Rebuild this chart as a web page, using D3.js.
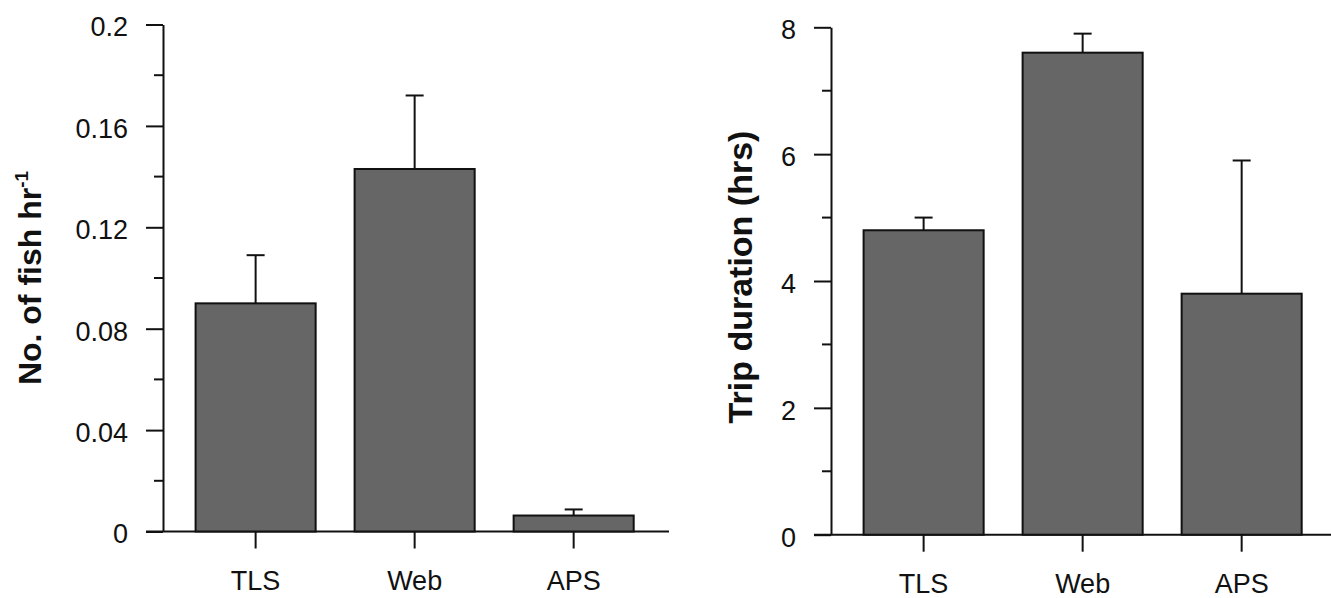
<!DOCTYPE html>
<html>
<head>
<meta charset="utf-8">
<script src="https://cdn.jsdelivr.net/npm/d3@7"></script>
<style>
  body { margin: 0; background: #fff; }
  svg { display: block; font-family: "Liberation Sans", Arial, sans-serif; }
  .axis path, .axis line { stroke: #111; stroke-width: 2; }
  .axis text { font-size: 27px; fill: #111; }
  .axis-title { font-weight: bold; fill: #111; }
</style>
</head>
<body>
<div id="chart"></div>
<script>
// categories shared by both panels
const categories = ["TLS", "Web", "APS"];

// left panel: catch rate (No. of fish per hour)
const fishRate = [0.09, 0.143, 0.0063];
const fishRateErr = [0.019, 0.029, 0.0024];
const fishTicks = [0, 0.04, 0.08, 0.12, 0.16, 0.2];
const fishTickLabels = ["0", "0.04", "0.08", "0.12", "0.16", "0.2"];
const fishMinorTicks = [0.02, 0.06, 0.1, 0.14, 0.18];

// right panel: trip duration in hours
const tripHours = [4.8, 7.6, 3.8];
const tripHoursErr = [0.2, 0.3, 2.1];
const tripTicks = [0, 2, 4, 6, 8];
const tripTickLabels = ["0", "2", "4", "6", "8"];
const tripMinorTicks = [1, 3, 5, 7];

class BarErrorVis {
  constructor(_svg, _opts) {
    this.svg = _svg;
    this.opts = _opts;
    this.initVis();
  }

  initVis() {
    let vis = this;
    let o = vis.opts;

    vis.g = vis.svg.append("g")
      .attr("transform", `translate(${o.left}, ${o.top})`);

    vis.height = o.height;
    vis.width = o.width;

    vis.x = d3.scaleBand()
      .domain(categories)
      .range([0, vis.width])
      .paddingInner(0.245)
      .paddingOuter(0.2135)
      .align(0.48);

    vis.y = d3.scaleLinear()
      .domain([0, o.max])
      .range([vis.height, 0]);

    // y axis with major ticks and labels
    vis.yAxis = d3.axisLeft(vis.y)
      .tickValues(o.ticks)
      .tickFormat((d, i) => o.tickLabels[i])
      .tickSize(17)
      .tickSizeOuter(0)
      .tickPadding(18);

    let yg = vis.g.append("g")
      .attr("class", "axis y-axis")
      .call(vis.yAxis);
    yg.selectAll("text").attr("dy", o.labelDy);

    // minor ticks
    vis.g.append("g")
      .attr("class", "axis")
      .selectAll("line")
      .data(o.minorTicks)
      .join("line")
      .attr("x1", -9)
      .attr("x2", 0)
      .attr("y1", d => vis.y(d))
      .attr("y2", d => vis.y(d));

    // x axis: baseline runs left of the y axis too
    vis.xAxis = d3.axisBottom(vis.x)
      .tickSize(17)
      .tickSizeOuter(0)
      .tickPadding(22);

    let xg = vis.g.append("g")
      .attr("class", "axis x-axis")
      .attr("transform", `translate(0, ${vis.height})`)
      .call(vis.xAxis);
    xg.select(".domain").remove();

    vis.g.append("line")
      .attr("class", "axis")
      .attr("x1", -17)
      .attr("x2", vis.width)
      .attr("y1", vis.height)
      .attr("y2", vis.height)
      .attr("stroke", "#111")
      .attr("stroke-width", 2);

    // axis title
    let title = vis.g.append("text")
      .attr("class", "axis-title")
      .attr("font-size", o.titleSize)
      .attr("transform", `translate(${o.titleX}, ${vis.height / 2 + o.titleShift}) rotate(-90)`)
      .attr("text-anchor", "middle")
      .text(o.title);
    if (o.titleSup) {
      title.append("tspan")
        .attr("font-size", "19px")
        .attr("dy", -13)
        .text(o.titleSup);
    }

    vis.updateVis();
  }

  updateVis() {
    let vis = this;
    let o = vis.opts;

    let data = categories.map((c, i) => ({ cat: c, value: o.values[i], err: o.errs[i] }));
    let cx = d => vis.x(d.cat) + vis.x.bandwidth() / 2;

    // error bars (drawn first so the bar outline sits on top)
    let eb = vis.g.append("g")
      .attr("stroke", "#111")
      .attr("stroke-width", 2);
    eb.selectAll(".err-stem")
      .data(data)
      .join("line")
      .attr("class", "err-stem")
      .attr("x1", cx)
      .attr("x2", cx)
      .attr("y1", d => vis.y(d.value))
      .attr("y2", d => vis.y(d.value + d.err));
    eb.selectAll(".err-cap")
      .data(data)
      .join("line")
      .attr("class", "err-cap")
      .attr("x1", d => cx(d) - 9)
      .attr("x2", d => cx(d) + 9)
      .attr("y1", d => vis.y(d.value + d.err))
      .attr("y2", d => vis.y(d.value + d.err));

    vis.g.selectAll(".bar")
      .data(data)
      .join("rect")
      .attr("class", "bar")
      .attr("x", d => vis.x(d.cat))
      .attr("width", vis.x.bandwidth())
      .attr("y", d => vis.y(d.value))
      .attr("height", d => vis.height - vis.y(d.value))
      .attr("fill", "#666666")
      .attr("stroke", "#111")
      .attr("stroke-width", 2);
  }
}

let svg = d3.select("#chart").append("svg")
  .attr("width", 1331)
  .attr("height", 598);

new BarErrorVis(svg, {
  left: 163, top: 24.5, width: 506, height: 507,
  max: 0.2,
  values: fishRate, errs: fishRateErr,
  ticks: fishTicks, tickLabels: fishTickLabels, minorTicks: fishMinorTicks,
  labelDy: "0.42em",
  title: "No. of fish hr", titleSup: "-1", titleX: -122, titleSize: "32px", titleShift: 0
});

new BarErrorVis(svg, {
  left: 831, top: 27.3, width: 506, height: 507.4,
  max: 8,
  values: tripHours, errs: tripHoursErr,
  ticks: tripTicks, tickLabels: tripTickLabels, minorTicks: tripMinorTicks,
  labelDy: "0.42em",
  title: "Trip duration (hrs)", titleX: -79, titleSize: "34px", titleShift: -4
});
</script>
</body>
</html>
